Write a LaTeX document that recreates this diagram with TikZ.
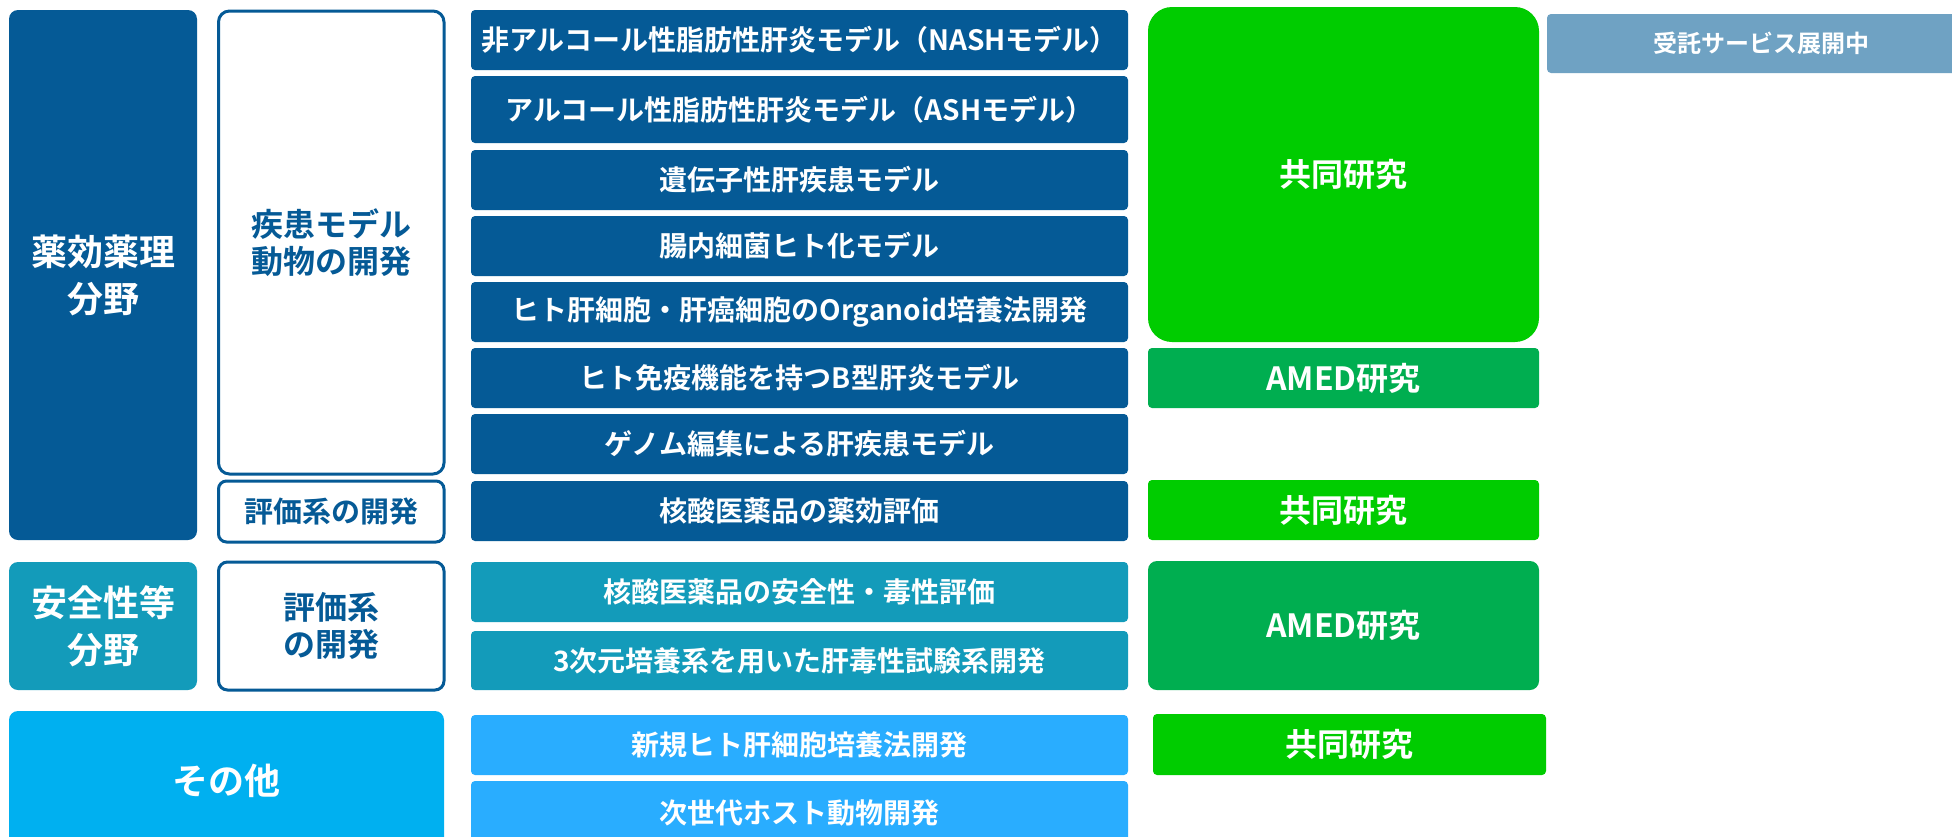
\documentclass[tikz,border=0pt]{standalone}
\usepackage{fontspec}
\newfontfamily\jp{Noto Sans CJK JP Bold}
\definecolor{dblue}{HTML}{055A96}
\definecolor{teal}{HTML}{139BBA}
\definecolor{sky}{HTML}{00B0F0}
\definecolor{lblue}{HTML}{29ADFF}
\definecolor{kgreen}{HTML}{00CC00}
\definecolor{agreen}{HTML}{00AE50}
\definecolor{grayblue}{HTML}{6FA2C3}
\tikzset{
  box/.style={inner sep=0pt, outer sep=0pt, align=center, text=white, font=\jp\fontsize{28}{34}\selectfont},
  rowbox/.style={box, rounded corners=4pt},
  catbox/.style={box, rounded corners=9pt, font=\jp\fontsize{36}{47}\selectfont},
  outbox/.style={box, fill=white, draw=dblue, line width=3pt, text=dblue, rounded corners=11pt},
  greenbox/.style={box, fill=kgreen, rounded corners=4pt, font=\jp\fontsize{32}{38}\selectfont},
  amedbox/.style={box, fill=agreen, rounded corners=4pt, font=\jp\fontsize{32}{38}\selectfont},
}
% \bx{name}{style}{x1}{y1}{x2}{y2}{text}
\newcommand{\bx}[7]{%
  \pgfmathsetmacro{\bw}{#5-#3}\pgfmathsetmacro{\bh}{#6-#4}%
  \node[#2, minimum width=\bw pt, minimum height=\bh pt] (#1) at ({(#3+#5)/2},{(#4+#6)/2}) {#7};}
\begin{document}
\begin{tikzpicture}[x=1pt,y=-1pt]
\useasboundingbox[fill=white] (0,0) rectangle (1952,836);
% left category boxes
\bx{cA}{catbox, fill=dblue}{9}{10}{197}{540}{薬効薬理\\分野}
\bx{cB}{catbox, fill=teal}{9}{562}{197}{690}{安全性等\\分野}
\bx{cC}{catbox, fill=sky}{9}{711}{444}{850}{その他}
% outline boxes
\bx{oA}{outbox, font=\jp\fontsize{32}{37}\selectfont}{218.5}{11}{444}{474}{疾患モデル\\動物の開発}
\bx{oB}{outbox, rounded corners=8pt, font=\jp\fontsize{29}{34}\selectfont}{218.5}{481}{444}{542}{評価系の開発}
\bx{oC}{outbox, rounded corners=9pt, font=\jp\fontsize{32}{37}\selectfont}{218.5}{562}{444}{690}{評価系\\の開発}
% dark blue rows
\bx{r1}{rowbox, fill=dblue}{471}{10}{1128}{70}{非アルコール性脂肪性肝炎モデル（NASHモデル）}
\bx{r2}{rowbox, fill=dblue}{471}{76}{1128}{143}{アルコール性脂肪性肝炎モデル（ASHモデル）}
\bx{r3}{rowbox, fill=dblue}{471}{150}{1128}{210}{遺伝子性肝疾患モデル}
\bx{r4}{rowbox, fill=dblue}{471}{216}{1128}{276}{腸内細菌ヒト化モデル}
\bx{r5}{rowbox, fill=dblue}{471}{282}{1128}{342}{ヒト肝細胞・肝癌細胞のOrganoid培養法開発}
\bx{r6}{rowbox, fill=dblue}{471}{348}{1128}{408}{ヒト免疫機能を持つB型肝炎モデル}
\bx{r7}{rowbox, fill=dblue}{471}{414}{1128}{474}{ゲノム編集による肝疾患モデル}
\bx{r8}{rowbox, fill=dblue}{471}{481}{1128}{541}{核酸医薬品の薬効評価}
% teal rows
\bx{t1}{rowbox, fill=teal}{471}{562}{1128}{622}{核酸医薬品の安全性・毒性評価}
\bx{t2}{rowbox, fill=teal}{471}{631}{1128}{690}{3次元培養系を用いた肝毒性試験系開発}
% light blue rows
\bx{s1}{rowbox, fill=lblue}{471}{715}{1128}{775}{新規ヒト肝細胞培養法開発}
\bx{s2}{rowbox, fill=lblue}{471}{781}{1128}{845}{次世代ホスト動物開発}
% green column
\bx{g1}{greenbox, rounded corners=24pt}{1148}{7}{1539}{342}{共同研究}
\bx{g2}{amedbox}{1148}{348}{1539}{408}{AMED研究}
\bx{g3}{greenbox}{1148}{480}{1539}{540}{共同研究}
\bx{g4}{amedbox, rounded corners=9pt}{1148}{561}{1539}{690}{AMED研究}
\bx{g5}{greenbox}{1153}{714}{1546}{775}{共同研究}
% service
\bx{sv}{rowbox, fill=grayblue, font=\jp\fontsize{24}{29}\selectfont}{1547}{14}{1975}{73}{受託サービス展開中}
\end{tikzpicture}
\end{document}
